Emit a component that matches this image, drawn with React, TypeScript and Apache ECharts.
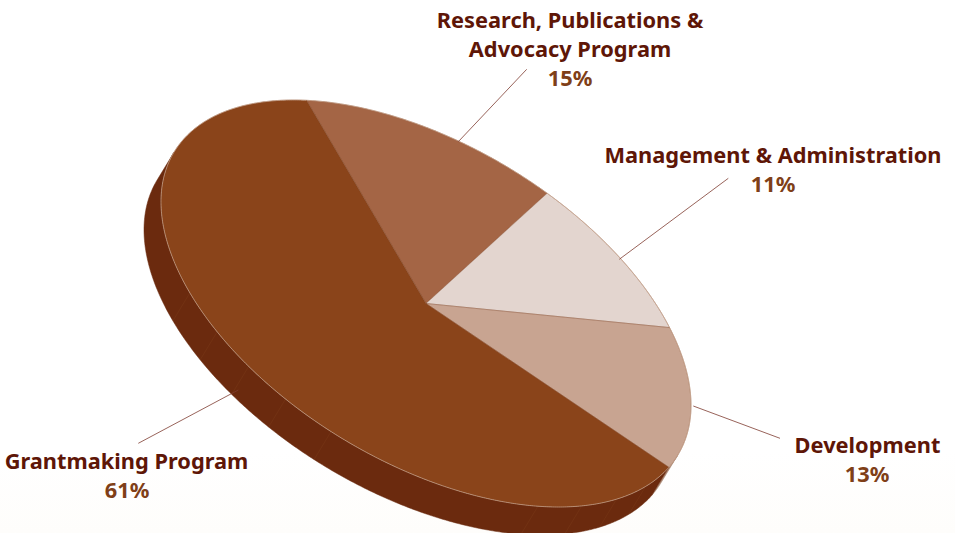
import React, { useEffect, useRef } from "react";
import * as echarts from "echarts";

const categories = [
  "Research, Publications & Advocacy Program",
  "Management & Administration",
  "Development",
  "Grantmaking Program",
];
const values = [15, 11, 13, 61];
const topColors = ["#A46545", "#E3D5CF", "#C8A491", "#8A441A"];
const sideColors = ["#7A4028", "#A58A7C", "#A98672", "#6B2A0E"];
const seamAngles = [34, 44, 54, 65, 111, 122, 132, 142, 153];

const CX = 426;
const CY = 303.5;
const HALF_W = 265;
const HALF_H = 203.5;
const SHEAR = 60 * (Math.PI / 180);
const DEPTH_X = -17;
const DEPTH_Y = 28;
const START_DEG = -116.8;
const SIDE_FROM = 18;
const SIDE_TO = 198;

const rim = (deg: number): [number, number] => {
  const t = (deg * Math.PI) / 180;
  return [CX + HALF_W * Math.cos(t), CY + HALF_H * Math.cos(t - SHEAR)];
};
const arc = (a: number, b: number): [number, number][] => {
  const pts: [number, number][] = [];
  const n = Math.max(1, Math.ceil(Math.abs(b - a) * 2));
  for (let i = 0; i <= n; i++) pts.push(rim(a + ((b - a) * i) / n));
  return pts;
};
const total = values.reduce((s, v) => s + v, 0);
const startOf = (idx: number) =>
  START_DEG + (values.slice(0, idx).reduce((s, v) => s + v, 0) / total) * 360;

const renderSlice = (params: any, api: any) => {
  const idx = params.dataIndex;
  const a = startOf(idx);
  const b = a + (api.value(0) / total) * 360;
  const children: any[] = [];
  const sa = Math.max(a, SIDE_FROM);
  const sb = Math.min(b, SIDE_TO);
  if (sb > sa) {
    const front = arc(sa, sb);
    const back = front.map(([x, y]) => [x + DEPTH_X, y + DEPTH_Y]).reverse();
    children.push({
      type: "polygon",
      shape: { points: [...front, ...back] },
      style: { fill: sideColors[idx], stroke: sideColors[idx], lineWidth: 0.5 },
    });
    seamAngles
      .filter((d) => d > sa && d < sb)
      .forEach((d) => {
        const [x, y] = rim(d);
        children.push({
          type: "line",
          shape: { x1: x, y1: y, x2: x + DEPTH_X, y2: y + DEPTH_Y },
          style: { stroke: "#8A4A24", lineWidth: 0.5, opacity: 0.45 },
        });
      });
  }
  const edge = arc(a, b);
  children.push({
    type: "polygon",
    shape: { points: [[CX, CY], ...edge] },
    style: { fill: topColors[idx], stroke: "#7A3E20", lineWidth: 0.5, strokeOpacity: 0.7 },
  });
  children.push({
    type: "polyline",
    shape: { points: edge },
    style: { fill: "none", stroke: "#C9A690", lineWidth: 0.8, opacity: 0.9 },
  });
  return { type: "group", children };
};

const nameColor = "#5E1607";
const pctColor = "#7F3F18";
const FONT = { fontFamily: "Noto Sans", fontWeight: 700, fontSize: 21.8 };

const text = (t: string, x: number, y: number, fill: string) => ({
  type: "text",
  z: 20,
  x,
  y,
  style: { ...FONT, text: t, fill, align: "center", verticalAlign: "middle" },
});
const leader = (x1: number, y1: number, x2: number, y2: number) => ({
  type: "line",
  z: 15,
  shape: { x1, y1, x2, y2 },
  style: { stroke: "#7E3B30", lineWidth: 0.8 },
});

export default function App() {
  const ref = useRef<HTMLDivElement>(null);
  useEffect(() => {
    const chart = echarts.init(ref.current!, undefined, { renderer: "svg" });
    chart.setOption({
      animation: false,
      backgroundColor: "#ffffff",
      series: [
        {
          type: "custom",
          coordinateSystem: "none",
          z: 5,
          silent: true,
          data: values.map((v, i) => ({ name: categories[i], value: [v] })),
          renderItem: renderSlice,
        },
      ],
      graphic: [
        {
          type: "rect",
          z: -1,
          shape: { x: 0, y: 450, width: 955, height: 83 },
          style: {
            fill: new echarts.graphic.LinearGradient(0, 0, 0, 1, [
              { offset: 0, color: "#ffffff" },
              { offset: 1, color: "#FEFDFB" },
            ]),
          },
        },
        leader(526.7, 69.3, 458.3, 141.7),
        leader(728.3, 178.3, 619.3, 259.3),
        leader(693.3, 406, 780, 438.3),
        leader(138.3, 443.3, 238.3, 390),
        text("Research, Publications &", 570, 19, nameColor),
        text("Advocacy Program", 570, 48, nameColor),
        text(values[0] + "%", 570, 77, pctColor),
        text("Management & Administration", 773, 154, nameColor),
        text(values[1] + "%", 773, 183, pctColor),
        text("Development", 867.5, 444, nameColor),
        text(values[2] + "%", 867, 473, pctColor),
        text("Grantmaking Program", 126.5, 460, nameColor),
        text(values[3] + "%", 127, 489, pctColor),
      ],
    });
    return () => chart.dispose();
  }, []);
  return (
    <div
      ref={ref}
      style={{ position: "absolute", left: 0, top: 0, width: 955, height: 533 }}
    />
  );
}
